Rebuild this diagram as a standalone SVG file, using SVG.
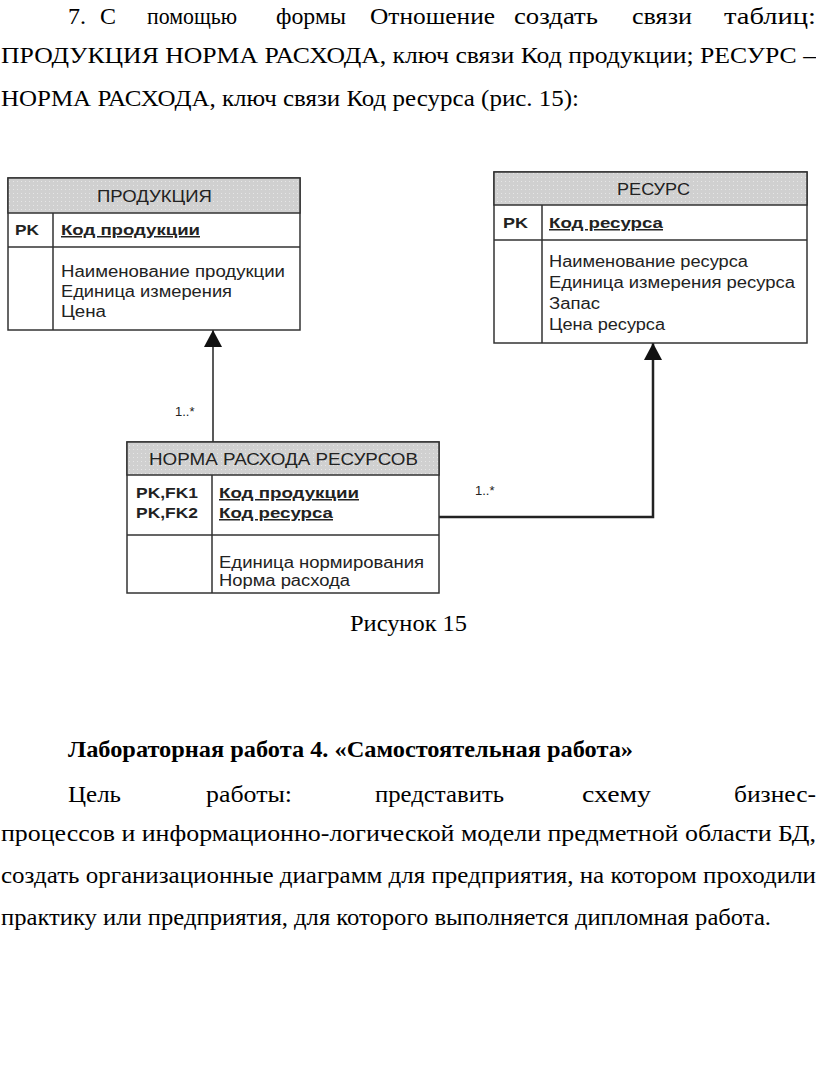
<svg xmlns="http://www.w3.org/2000/svg" width="816" height="1074" viewBox="0 0 816 1074">
<style>
.doc{font-family:"Liberation Serif","Times New Roman",serif;font-size:24px;fill:#000}
.bold{font-weight:bold}
.tbl{font-family:"Liberation Sans",Arial,sans-serif;fill:#222}
.hdr{font-size:16px}
.key{font-size:15px;font-weight:bold}
.ul{text-decoration:underline}
.attr{font-size:16px}
.lbl{font-family:"Liberation Sans",Arial,sans-serif;font-size:13px;fill:#222}
.box{fill:#fff;stroke:#333;stroke-width:1.5}
.head{fill:url(#dots);stroke:#333;stroke-width:1.5}
.div{stroke:#333;stroke-width:1.5;fill:none}
.conn{fill:none;stroke:#222}
</style>
<defs>
<pattern id="dots" width="4" height="4" patternUnits="userSpaceOnUse">
<rect width="4" height="4" fill="#d0d0d0"/>
<rect x="1" y="1" width="1" height="1" fill="#e6e6e6"/>
</pattern>
<marker id="arr" markerUnits="userSpaceOnUse" viewBox="0 0 17 18" refX="17" refY="9" markerWidth="17" markerHeight="18" orient="auto">
<path d="M0,0 L17,9 L0,18 z" fill="#111"/>
</marker>
</defs>

<g id="text-top">
<text class="doc" x="68" y="24" textLength="18" lengthAdjust="spacingAndGlyphs">7.</text>
<text class="doc" x="100" y="24" textLength="16" lengthAdjust="spacingAndGlyphs">С</text>
<text class="doc" x="147" y="24" textLength="90" lengthAdjust="spacingAndGlyphs">помощью</text>
<text class="doc" x="276" y="24" textLength="70" lengthAdjust="spacingAndGlyphs">формы</text>
<text class="doc" x="370" y="24" textLength="125" lengthAdjust="spacingAndGlyphs">Отношение</text>
<text class="doc" x="514" y="24" textLength="84" lengthAdjust="spacingAndGlyphs">создать</text>
<text class="doc" x="632" y="24" textLength="60" lengthAdjust="spacingAndGlyphs">связи</text>
<text class="doc" x="724" y="24" textLength="92" lengthAdjust="spacingAndGlyphs">таблиц:</text>
<text class="doc" x="1" y="63" textLength="815" lengthAdjust="spacingAndGlyphs">ПРОДУКЦИЯ НОРМА РАСХОДА, ключ связи Код продукции; РЕСУРС –</text>
<text class="doc" x="1" y="106" textLength="578" lengthAdjust="spacingAndGlyphs">НОРМА РАСХОДА, ключ связи Код ресурса  (рис. 15):</text>
</g>

<g id="connectors">
<path class="conn" d="M213,442 V330" stroke-width="1.5" marker-end="url(#arr)"/>
<path class="conn" d="M439,517 H653 V343" stroke-width="2.5" marker-end="url(#arr)"/>
<text class="lbl" x="175" y="416">1..*</text>
<text class="lbl" x="475" y="495">1..*</text>
</g>

<g id="node-produkcia">
<rect class="box" x="8" y="178" width="292" height="152"/>
<rect class="head" x="8" y="178" width="292" height="35"/>
<path class="div" d="M8,247 H300 M53,213 V330"/>
<text class="tbl hdr" x="97" y="202" textLength="115" lengthAdjust="spacingAndGlyphs">ПРОДУКЦИЯ</text>
<text class="tbl key" x="15" y="235" textLength="24" lengthAdjust="spacingAndGlyphs">PK</text>
<text class="tbl key ul" x="61" y="235" textLength="139" lengthAdjust="spacingAndGlyphs">Код продукции</text>
<text class="tbl attr" x="61" y="277" textLength="224" lengthAdjust="spacingAndGlyphs">Наименование продукции</text>
<text class="tbl attr" x="61" y="297" textLength="171" lengthAdjust="spacingAndGlyphs">Единица измерения</text>
<text class="tbl attr" x="61" y="317" textLength="45" lengthAdjust="spacingAndGlyphs">Цена</text>
</g>

<g id="node-resurs">
<rect class="box" x="494" y="172" width="313" height="171"/>
<rect class="head" x="494" y="172" width="313" height="33"/>
<path class="div" d="M494,240 H807 M542,205 V343"/>
<text class="tbl hdr" x="617" y="195" textLength="73" lengthAdjust="spacingAndGlyphs">РЕСУРС</text>
<text class="tbl key" x="503" y="228" textLength="25" lengthAdjust="spacingAndGlyphs">PK</text>
<text class="tbl key ul" x="549" y="228" textLength="114" lengthAdjust="spacingAndGlyphs">Код ресурса</text>
<text class="tbl attr" x="549" y="267" textLength="199" lengthAdjust="spacingAndGlyphs">Наименование ресурса</text>
<text class="tbl attr" x="549" y="288" textLength="246" lengthAdjust="spacingAndGlyphs">Единица измерения ресурса</text>
<text class="tbl attr" x="549" y="309" textLength="51" lengthAdjust="spacingAndGlyphs">Запас</text>
<text class="tbl attr" x="549" y="330" textLength="116" lengthAdjust="spacingAndGlyphs">Цена ресурса</text>
</g>

<g id="node-norma">
<rect class="box" x="127" y="442" width="312" height="151"/>
<rect class="head" x="127" y="442" width="312" height="33"/>
<path class="div" d="M127,535 H439 M212,475 V593"/>
<text class="tbl hdr" x="149" y="465" textLength="269" lengthAdjust="spacingAndGlyphs">НОРМА РАСХОДА РЕСУРСОВ</text>
<text class="tbl key" x="136" y="498" textLength="62" lengthAdjust="spacingAndGlyphs">PK,FK1</text>
<text class="tbl key" x="136" y="518" textLength="62" lengthAdjust="spacingAndGlyphs">PK,FK2</text>
<text class="tbl key ul" x="219" y="498" textLength="140" lengthAdjust="spacingAndGlyphs">Код продукции</text>
<text class="tbl key ul" x="219" y="518" textLength="114" lengthAdjust="spacingAndGlyphs">Код ресурса</text>
<text class="tbl attr" x="219" y="568" textLength="205" lengthAdjust="spacingAndGlyphs">Единица нормирования</text>
<text class="tbl attr" x="219" y="586" textLength="131" lengthAdjust="spacingAndGlyphs">Норма расхода</text>
</g>

<g id="text-bottom">
<text class="doc" x="350" y="631" textLength="117" lengthAdjust="spacingAndGlyphs">Рисунок 15</text>
<text class="doc bold" x="68" y="757" textLength="565" lengthAdjust="spacingAndGlyphs">Лабораторная работа 4. «Самостоятельная работа»</text>
<text class="doc" x="68" y="802" textLength="53" lengthAdjust="spacingAndGlyphs">Цель</text>
<text class="doc" x="206" y="802" textLength="86" lengthAdjust="spacingAndGlyphs">работы:</text>
<text class="doc" x="375" y="802" textLength="129" lengthAdjust="spacingAndGlyphs">представить</text>
<text class="doc" x="582" y="802" textLength="69" lengthAdjust="spacingAndGlyphs">схему</text>
<text class="doc" x="734" y="802" textLength="82" lengthAdjust="spacingAndGlyphs">бизнес-</text>
<text class="doc" x="1" y="841" textLength="815" lengthAdjust="spacingAndGlyphs">процессов  и  информационно-логической модели предметной области БД,</text>
<text class="doc" x="1" y="883" textLength="815" lengthAdjust="spacingAndGlyphs">создать организационные диаграмм для предприятия, на котором проходили</text>
<text class="doc" x="1" y="925" textLength="770" lengthAdjust="spacingAndGlyphs">практику или предприятия, для которого выполняется дипломная работа.</text>
</g>
</svg>
